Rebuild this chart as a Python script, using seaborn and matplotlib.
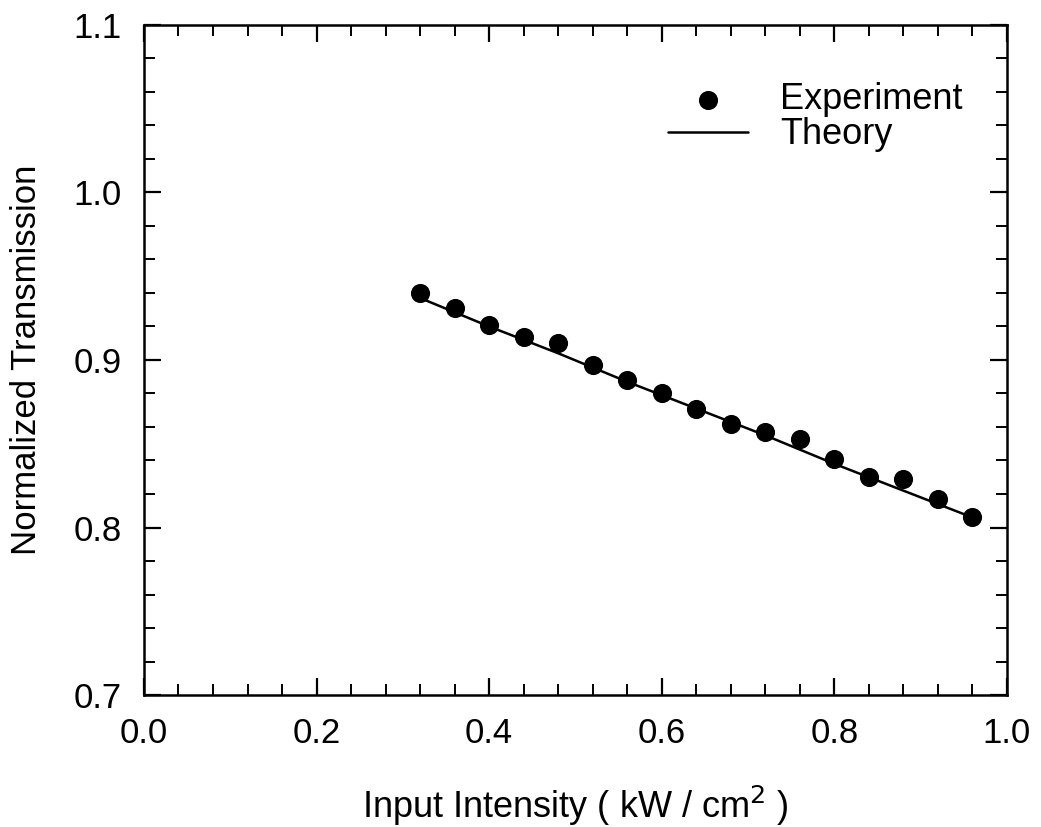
import matplotlib
matplotlib.use("Agg")
import matplotlib.pyplot as plt
import seaborn as sns
import pandas as pd
from matplotlib.ticker import MultipleLocator, FormatStrFormatter

sns.set_theme(style="ticks")
plt.rcParams['font.family'] = ['Liberation Sans', 'DejaVu Sans']
plt.rcParams['text.color'] = 'black'
plt.rcParams['axes.labelcolor'] = 'black'

exp_x = [0.32, 0.36, 0.40, 0.44, 0.48, 0.52, 0.56, 0.60, 0.64, 0.68, 0.72, 0.76, 0.80, 0.84, 0.88, 0.92, 0.96]
exp_y = [0.940, 0.931, 0.921, 0.914, 0.910, 0.897, 0.888, 0.880, 0.871, 0.862, 0.857, 0.853, 0.841, 0.830, 0.829, 0.817, 0.806]
theory_x = [0.32, 0.40, 0.48, 0.56, 0.64, 0.72, 0.80, 0.88, 0.96]
theory_y = [0.937, 0.920, 0.904, 0.887, 0.871, 0.855, 0.838, 0.822, 0.806]

df_exp = pd.DataFrame({"x": exp_x, "y": exp_y})
df_th = pd.DataFrame({"x": theory_x, "y": theory_y})

fig = plt.figure(figsize=(10.41, 8.27), dpi=100)
ax = fig.add_axes([0.1383, 0.1596, 0.829, 0.8102])

sns.lineplot(data=df_th, x="x", y="y", ax=ax, color="black", linewidth=1.8, label="Theory")
sns.scatterplot(data=df_exp, x="x", y="y", ax=ax, color="black", s=190, edgecolor="black",
                linewidth=0, label="Experiment", zorder=3)

ax.set_xlim(0.0, 1.0)
ax.set_ylim(0.7, 1.1)
ax.xaxis.set_major_locator(MultipleLocator(0.2))
ax.xaxis.set_minor_locator(MultipleLocator(0.04))
ax.yaxis.set_major_locator(MultipleLocator(0.1))
ax.yaxis.set_minor_locator(MultipleLocator(0.02))
ax.xaxis.set_major_formatter(FormatStrFormatter("%.1f"))
ax.yaxis.set_major_formatter(FormatStrFormatter("%.1f"))

ax.tick_params(which="both", direction="in", top=True, right=True, colors="black",
               labelcolor="black", labelsize=25)
ax.tick_params(axis="x", which="major", pad=16)
ax.tick_params(axis="y", which="major", pad=16)
ax.tick_params(which="major", length=12, width=1.6)
ax.tick_params(which="minor", length=8, width=1.4)
for sp in ax.spines.values():
    sp.set_linewidth(1.8)
    sp.set_color("black")

ax.set_xlabel("Input Intensity ( kW / cm$^2$ )", fontsize=26, labelpad=24)
ax.set_ylabel("Normalized Transmission", fontsize=25, labelpad=22)

handles, labels = ax.get_legend_handles_labels()
order = [labels.index("Experiment"), labels.index("Theory")]
leg = ax.legend([handles[i] for i in order], [labels[i] for i in order], loc="upper right",
                frameon=False, fontsize=26, bbox_to_anchor=(0.978, 0.952),
                handlelength=2.2, handletextpad=0.9, labelspacing=0.0, borderpad=0.2)

fig.savefig("out.png", dpi=100)
